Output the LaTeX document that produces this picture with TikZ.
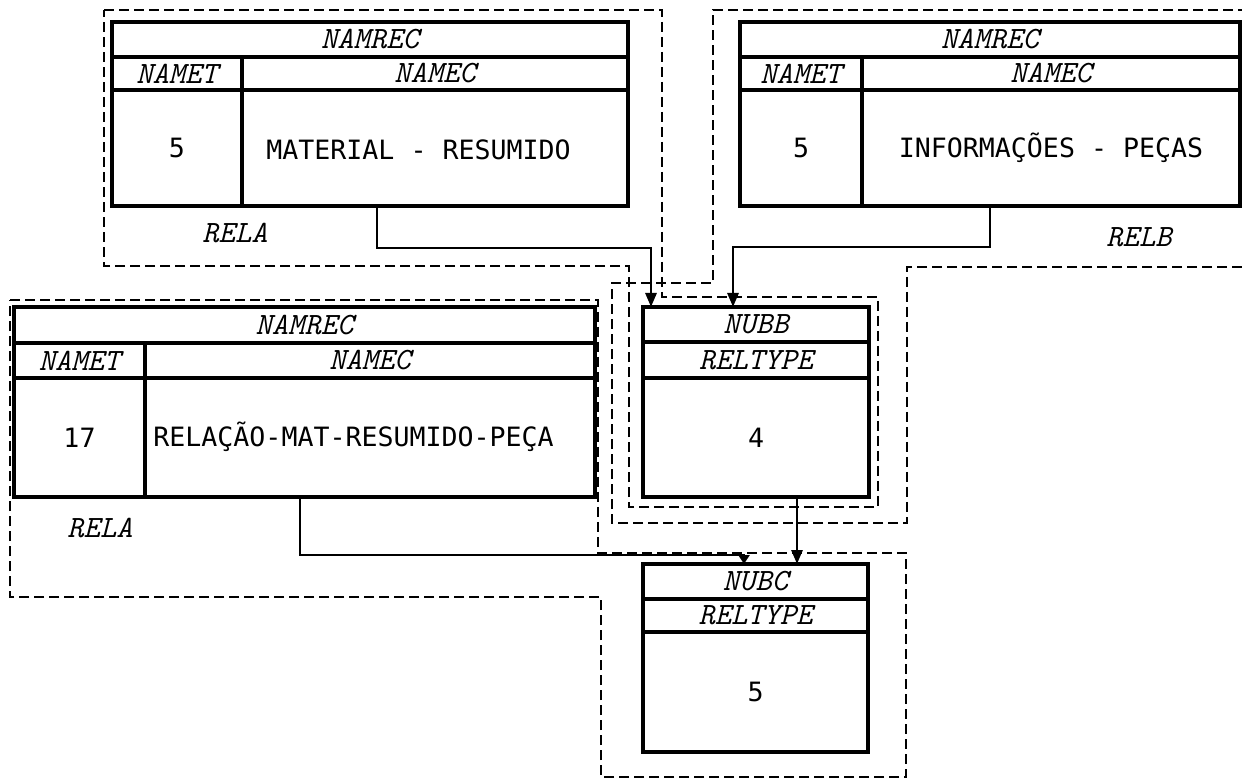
\documentclass[tikz,border=0pt]{standalone}
\usepackage{fontspec}
\newfontfamily\bodyfont{DejaVu Sans Mono}
\usetikzlibrary{arrows.meta}
\newcommand\pxu{0.5pt}
\newcommand\hdrf{\fontsize{15.5}{16}\selectfont\ttfamily\itshape}
\newcommand\bodyf{\fontsize{13.3}{15}\selectfont\bodyfont}
\begin{document}
\begin{tikzpicture}[x=0.5pt,y=-0.5pt,
  cell/.style={draw, line width=1.8pt, inner sep=0pt, outer sep=0pt, anchor=north west, font=\hdrf},
  bcell/.style={cell, font=\bodyf},
  zone/.style={draw, line width=1.3pt, dash pattern=on 5pt off 2.5pt},
  conn/.style={draw, line width=1.4pt},
  arr/.style={conn, -{Triangle[length=7pt,width=5.5pt]}},
  arrs/.style={conn, -{Triangle[length=4.5pt,width=5.5pt]}},
  lbl/.style={font=\hdrf, inner sep=0pt},
  txt/.style={font=\bodyf, inner sep=0pt}]
\useasboundingbox (0,0) rectangle (1242,780);

% dashed zones
\draw[zone] (104,10) -- (662,10) -- (662,297) -- (878,297) -- (878,507) -- (629,507) -- (629,266) -- (104,266) -- cycle;
\draw[zone] (1242,267) -- (907,267) -- (907,523) -- (612,523) -- (612,283) -- (713,283) -- (713,10) -- (1242,10);
\draw[zone] (10,300) -- (598,300) -- (598,553) -- (906,553) -- (906,777) -- (601,777) -- (601,597) -- (10,597) -- cycle;

% record T1
\node[cell, minimum width=516*\pxu, minimum height=35*\pxu] (t1h) at (112,22) {NAMREC};
\node[cell, minimum width=130*\pxu, minimum height=33*\pxu] (t1a) at (112,57) {NAMET};
\node[cell, minimum width=386*\pxu, minimum height=33*\pxu] (t1b) at (242,57) {NAMEC};
\node[bcell, minimum width=130*\pxu, minimum height=116*\pxu] (t1c) at (112,90) {5};
\node[bcell, minimum width=386*\pxu, minimum height=116*\pxu] (t1d) at (242,90) {};
\node[txt, anchor=west] (t1t) at (266,150) {MATERIAL - RESUMIDO};

% record T2
\node[cell, minimum width=500*\pxu, minimum height=35*\pxu] (t2h) at (740,22) {NAMREC};
\node[cell, minimum width=122*\pxu, minimum height=33*\pxu] (t2a) at (740,57) {NAMET};
\node[cell, minimum width=378*\pxu, minimum height=33*\pxu] (t2b) at (862,57) {NAMEC};
\node[bcell, minimum width=122*\pxu, minimum height=116*\pxu] (t2c) at (740,90) {5};
\node[bcell, minimum width=378*\pxu, minimum height=116*\pxu] (t2d) at (862,90) {INFORMAÇÕES - PEÇAS};

% record 17
\node[cell, minimum width=581*\pxu, minimum height=36*\pxu] (r17h) at (14,307) {NAMREC};
\node[cell, minimum width=131*\pxu, minimum height=35*\pxu] (r17a) at (14,343) {NAMET};
\node[cell, minimum width=450*\pxu, minimum height=35*\pxu] (r17b) at (145,343) {NAMEC};
\node[bcell, minimum width=131*\pxu, minimum height=119*\pxu] (r17c) at (14,378) {17};
\node[bcell, minimum width=450*\pxu, minimum height=119*\pxu] (r17d) at (145,378) {};
\node[txt, anchor=west] (r17t) at (153,437) {RELAÇÃO-MAT-RESUMIDO-PEÇA};

% NUBB
\node[cell, minimum width=226*\pxu, minimum height=35*\pxu] (nubbh) at (643,307) {NUBB};
\node[cell, minimum width=226*\pxu, minimum height=36*\pxu] (nubbr) at (643,342) {RELTYPE};
\node[bcell, minimum width=226*\pxu, minimum height=119*\pxu] (nubbv) at (643,378) {4};

% NUBC
\node[cell, minimum width=225*\pxu, minimum height=35*\pxu] (nubch) at (643,564) {NUBC};
\node[cell, minimum width=225*\pxu, minimum height=33*\pxu] (nubcr) at (643,599) {RELTYPE};
\node[bcell, minimum width=225*\pxu, minimum height=120*\pxu] (nubcv) at (643,632) {5};

% labels
\node[lbl] (la1) at (235,233) {RELA};
\node[lbl] (lb1) at (1139,237) {RELB};
\node[lbl] (la2) at (100,528) {RELA};

% connectors
\coordinate (c1) at (377,248);
\coordinate (c2) at (651,248);
\draw[arr] (t1d.south -| c1) -- (c1) -- (c2) -- (nubbh.north -| c2);
\coordinate (c3) at (990,247);
\coordinate (c4) at (733,247);
\draw[arr] (t2d.south -| c3) -- (c3) -- (c4) -- (nubbh.north -| c4);
\coordinate (c5) at (797,530);
\draw[arr] (nubbv.south -| c5) -- (nubch.north -| c5);
\coordinate (c6) at (300,555);
\coordinate (c7) at (744,555);
\draw[arrs] (r17d.south -| c6) -- (c6) -- (c7) -- (nubch.north -| c7);
\end{tikzpicture}
\end{document}
